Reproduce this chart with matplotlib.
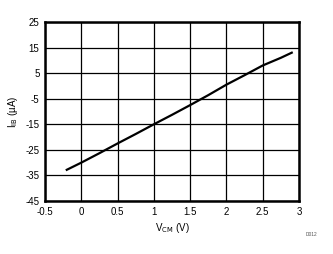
import matplotlib
matplotlib.use("Agg")
import matplotlib.pyplot as plt

vcm = [-0.2, 0.0, 0.25, 0.5, 0.75, 1.0, 1.25, 1.5, 1.75, 2.0, 2.25, 2.5, 2.75, 2.9]
iib = [-32.8, -30.0, -26.3, -22.5, -18.8, -15.0, -11.3, -7.5, -3.6, 0.5, 4.2, 8.0, 11.0, 13.0]
xticks = [-0.5, 0, 0.5, 1, 1.5, 2, 2.5, 3]
xticklabels = ["-0.5", "0", "0.5", "1", "1.5", "2", "2.5", "3"]
yticks = [-45, -35, -25, -15, -5, 5, 15, 25]

plt.rcParams['font.family'] = ['Liberation Sans', 'DejaVu Sans']
plt.rcParams['axes.unicode_minus'] = False
fig = plt.figure(figsize=(3.33, 2.54), dpi=100)
ax = fig.add_axes([45/333, 1 - 201/254, (299-45)/333, (201-22)/254])
ax.plot(vcm, iib, color='black', lw=1.6)
ax.set_xlim(-0.5, 3)
ax.set_ylim(-45, 25)
ax.set_xticks(xticks)
ax.set_xticklabels(xticklabels)
ax.set_yticks(yticks)
ax.grid(True, color='black', lw=0.9)
ax.tick_params(length=0, labelsize=7, pad=4)
for s in ax.spines.values():
    s.set_linewidth(1.8)
ax.set_xlabel("V$_{\\mathrm{CM}}$ (V)", fontsize=7, labelpad=3)
ax.set_ylabel("I$_{\\mathrm{IB}}$ (µA)", fontsize=7, labelpad=4)
fig.text(312/333, 1 - 234/254, "D012", fontsize=3.5, color='#555555', ha='center', va='center')
fig.savefig("out.png", dpi=100)
